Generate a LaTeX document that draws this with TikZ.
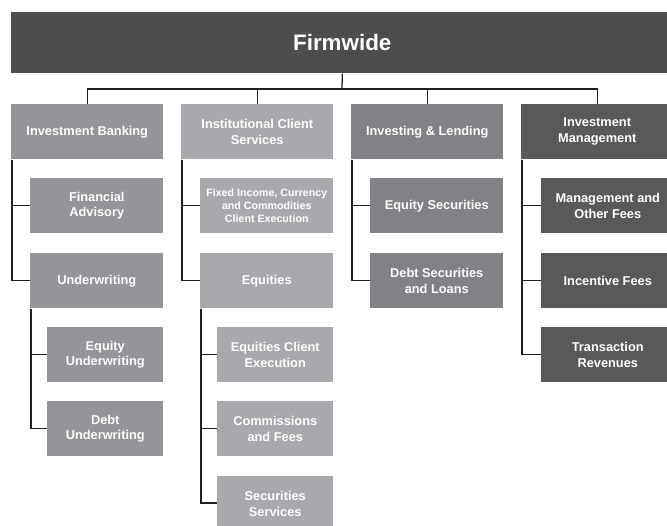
\documentclass[tikz,border=0pt]{standalone}
\usepackage{fontspec}
\setmainfont{Liberation Sans}
\usepackage{tikz}
\usepackage{xcolor}
\definecolor{topgray}{RGB}{76, 77, 79}
\definecolor{ibgray}{RGB}{147, 149, 152}
\definecolor{icsgray}{RGB}{167, 169, 172}
\definecolor{inlgray}{RGB}{128, 130, 133}
\definecolor{imgray}{RGB}{88, 89, 91}
\definecolor{linecol}{RGB}{35, 31, 32}

\begin{document}
\begin{tikzpicture}[x=0.75pt, y=-0.75pt,
    orgbox/.style={anchor=north west, minimum height=41.25pt, inner sep=0pt,
        align=center, text=white, font=\fontsize{9.6}{11.8}\selectfont\bfseries},
    link/.style={draw=linecol, line width=0.95pt}]
    % Page frame
        \clip (0,0) rectangle (667,525);

        % Parameters
        \def\wa{114pt}   % width of division boxes
        \def\wb{99.75pt} % width of business boxes
        \def\wc{87pt}    % width of sub-business boxes

        % Firm box
        \node[orgbox, fill=topgray, minimum width=496.5pt, minimum height=45.75pt,
            font=\fontsize{16.8}{19}\selectfont\bfseries] (fw) at (11,12) {Firmwide};

        % Divisions
        \foreach \nm/\xx/\col/\lbl in {ib/11/ibgray/{Investment Banking},
            ics/181/icsgray/{Institutional Client\\Services},
            inl/351/inlgray/{Investing \& Lending},
            im/521/imgray/{Investment\\Management}}
            \node[orgbox, fill=\col, minimum width=\wa] (\nm) at (\xx,104) {\lbl};

        % Investment Banking
        \node[orgbox, fill=ibgray, minimum width=\wb] (fa) at (30,178) {Financial\\Advisory};
        \node[orgbox, fill=ibgray, minimum width=\wb] (uw) at (30,253) {Underwriting};
        \node[orgbox, fill=ibgray, minimum width=\wc] (equw) at (47,327) {Equity\\Underwriting};
        \node[orgbox, fill=ibgray, minimum width=\wc] (dbuw) at (47,401) {Debt\\Underwriting};

        % Institutional Client Services
        \node[orgbox, fill=icsgray, minimum width=\wb, font=\fontsize{8}{10}\selectfont\bfseries]
            (ficc) at (200,178) {Fixed Income, Currency\\and Commodities\\Client Execution};
        \node[orgbox, fill=icsgray, minimum width=\wb] (eq) at (200,253) {Equities};
        \node[orgbox, fill=icsgray, minimum width=\wc] (eqce) at (217,327) {Equities Client\\Execution};
        \node[orgbox, fill=icsgray, minimum width=\wc] (cf) at (217,401) {Commissions\\and Fees};
        \node[orgbox, fill=icsgray, minimum width=\wc] (ss) at (217,476) {Securities\\Services};

        % Investing & Lending
        \node[orgbox, fill=inlgray, minimum width=\wb] (es) at (370,178) {Equity Securities};
        \node[orgbox, fill=inlgray, minimum width=\wb] (dsl) at (370,253) {Debt Securities\\and Loans};

        % Investment Management
        \node[orgbox, fill=imgray, minimum width=\wb] (mof) at (541,178) {Management and\\Other Fees};
        \node[orgbox, fill=imgray, minimum width=\wb] (inc) at (541,253) {Incentive Fees};
        \node[orgbox, fill=imgray, minimum width=\wb] (tr) at (541,327) {Transaction\\Revenues};

        % Connectors
        \coordinate (bus) at (342,89);
        \draw[link] (fw.south) -- (bus);
        \draw[link] (ib.north) |- (bus) -| (im.north);
        \draw[link] (ics.north) -- (ics.north |- bus);
        \draw[link] (inl.north) -- (inl.north |- bus);

        \draw[link] ([xshift=0.75pt]ib.south west) |- (fa.west);
        \draw[link] ([xshift=0.75pt]ib.south west) |- (uw.west);
        \draw[link] ([xshift=0.75pt]uw.south west) |- (equw.west);
        \draw[link] ([xshift=0.75pt]uw.south west) |- (dbuw.west);

        \draw[link] ([xshift=0.75pt]ics.south west) |- (ficc.west);
        \draw[link] ([xshift=0.75pt]ics.south west) |- (eq.west);
        \foreach \c in {eqce,cf} \draw[link] ([xshift=0.75pt]eq.south west) |- (\c.west);
        \draw[link] ([xshift=0.75pt]eq.south west) |- ([yshift=-20.25pt]ss.north west);

        \draw[link] ([xshift=0.75pt]inl.south west) |- (es.west);
        \draw[link] ([xshift=0.75pt]inl.south west) |- (dsl.west);

        \foreach \c in {mof,inc,tr} \draw[link] ([xshift=0.75pt]im.south west) |- (\c.west);
    \end{tikzpicture}
\end{document}
